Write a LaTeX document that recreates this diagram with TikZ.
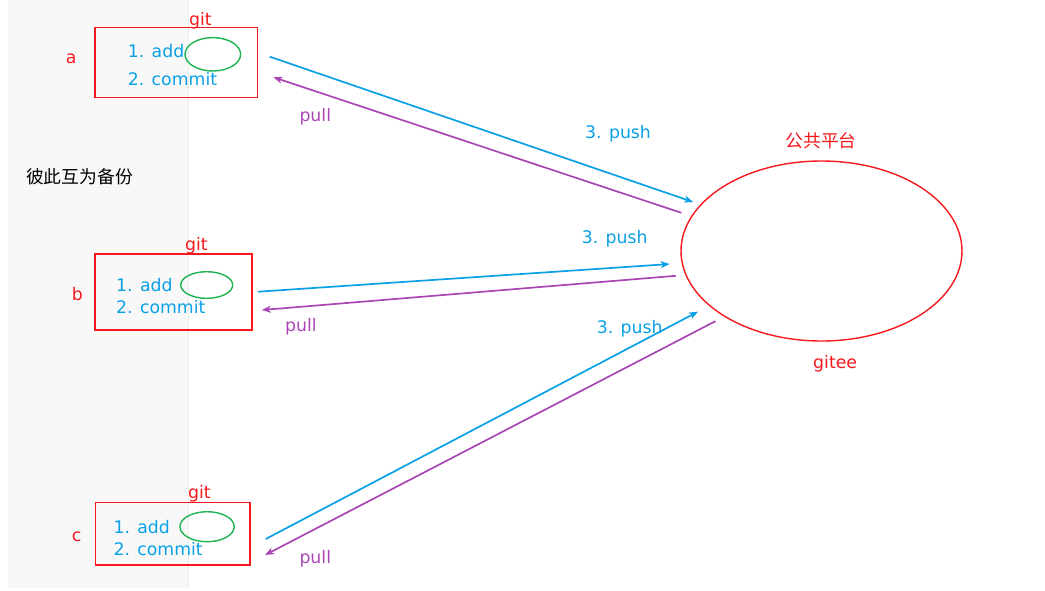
\documentclass[tikz,border=0pt]{standalone}
\usepackage{fontspec}
\setmainfont{DejaVu Sans}
\newfontfamily\cjk{Noto Sans CJK SC}
\usetikzlibrary{arrows.meta,shapes.geometric}
\definecolor{gitred}{RGB}{245,25,30}
\definecolor{gitblue}{RGB}{10,160,230}
\definecolor{gitpurple}{RGB}{170,70,180}
\definecolor{gitgreen}{RGB}{30,180,80}
\definecolor{panel}{RGB}{248,248,248}
\begin{document}
\begin{tikzpicture}[x=1pt,y=-1pt,
    every node/.style={font=\fontsize{17.3}{20}\selectfont, inner sep=0pt},
    txt/.style={anchor=base west},
    repo/.style={draw=gitred, line width=1.6pt},
    stage/.style={draw=gitgreen, ellipse, line width=1.4pt},
    push/.style={draw=gitblue, line width=1.7pt, -{Stealth[length=9pt,width=7pt,inset=2.5pt]}},
    pull/.style={draw=gitpurple, line width=1.7pt, -{Stealth[length=9pt,width=7pt,inset=2.5pt]}}]
  \useasboundingbox (0,0) rectangle (1045,590);
  \fill[panel] (8,0) rectangle (188,587.7); \draw[black!8] (188,0) -- (188,587.7);
  \node[font=\fontsize{17.8}{20}\selectfont] (note) at (79.5,177) {\cjk 彼此互为备份};
  % local repositories
  \node[repo, minimum width=162.7pt, minimum height=70pt] (a) at (176.3,62.3) {};
  \node[repo, minimum width=157pt, minimum height=76pt] (b) at (173.5,292) {};
  \node[repo, minimum width=154.3pt, minimum height=62.3pt] (c) at (172.8,533.8) {};
  \node[txt, gitred] (na) at (65.7,63.3) {a}; \node[txt, gitred] (ga) at (189,25) {git};
  \node[txt, gitred] (nb) at (71.7,300) {b}; \node[txt, gitred] (gb) at (185,250) {git};
  \node[txt, gitred] (nc) at (71.7,541.7) {c}; \node[txt, gitred] (gc) at (188,498.5) {git};
  \node[txt, gitblue] (adda) at (127.7,57.7) {1. add}; \node[txt, gitblue] (comma) at (127.7,85.7) {2. commit};
  \node[txt, gitblue] (addb) at (116,291.7) {1. add}; \node[txt, gitblue] (commb) at (116,313) {2. commit};
  \node[txt, gitblue] (addc) at (113.3,533.3) {1. add}; \node[txt, gitblue] (commc) at (113.3,555) {2. commit};
  \node[stage, minimum width=55.6pt, minimum height=33.4pt] (sa) at (212.8,54.3) {};
  \node[stage, minimum width=52pt, minimum height=26.6pt] (sb) at (206.7,285) {};
  \node[stage, minimum width=54.3pt, minimum height=30pt] (sc) at (207.1,526.7) {};
  % remote
  \node[draw=gitred, ellipse, line width=1.4pt, minimum width=281pt, minimum height=180pt] (gitee) at (821.5,251) {};
  \node[gitred, font=\fontsize{17.8}{20}\selectfont] (pf) at (821,141) {\cjk 公共平台};
  \node[txt, gitred] (gname) at (813,368) {gitee};
  % push and pull
  \draw[push, shorten >=7.6pt] ([xshift=11.3pt,yshift=5.6pt]a.east) -- (gitee.159.35);
  \draw[pull, shorten <=10.3pt] (gitee.165.2) -- ([xshift=15pt,yshift=-15pt]a.east);
  \draw[push, shorten >=12pt] ([xshift=5.3pt,yshift=0.3pt]b.east) -- (gitee.185.6);
  \draw[pull, shorten <=9.6pt] (gitee.190.1) -- ([xshift=9pt,yshift=-18pt]b.east);
  \draw[push, shorten >=12.4pt] ([xshift=15pt,yshift=-5.2pt]c.east) -- (gitee.206.4);
  \draw[pull, shorten <=9.7pt] (gitee.214) -- ([xshift=14.3pt,yshift=-21.2pt]c.east);
  \node[txt, gitblue] (pusha) at (585,138.3) {3. push}; \node[txt, gitpurple] (pulla) at (299.3,121.7) {pull};
  \node[txt, gitblue] (pushb) at (581.7,243.3) {3. push}; \node[txt, gitpurple] (pullb) at (285,331.7) {pull};
  \node[txt, gitblue] (pushc) at (596.7,333.3) {3. push}; \node[txt, gitpurple] (pullc) at (299.3,563.3) {pull};
\end{tikzpicture}
\end{document}
